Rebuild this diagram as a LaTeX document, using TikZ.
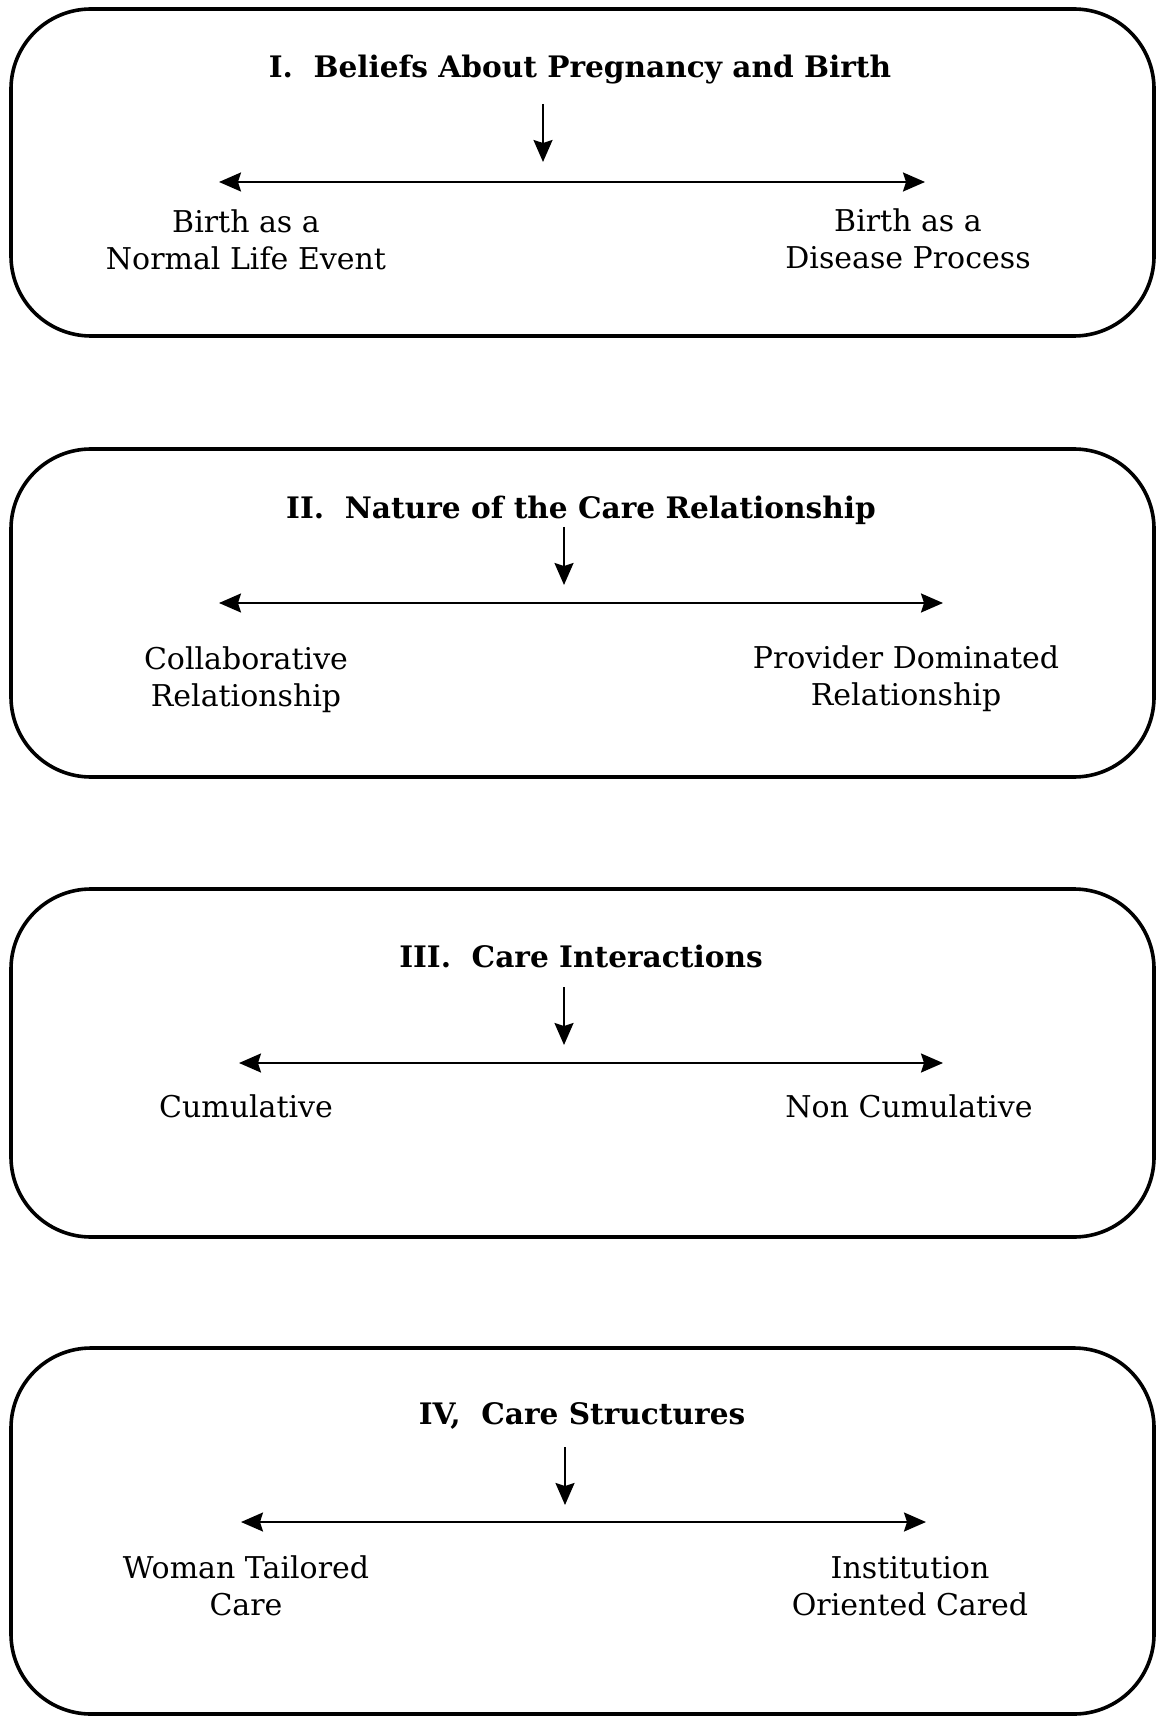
\documentclass[tikz,border=0pt]{standalone}
\usepackage{fontspec}
\setmainfont{DejaVu Serif}
\usetikzlibrary{arrows.meta}
\tikzstyle{panel} = [rectangle, rounded corners=40pt, minimum width=571.5pt, draw=black, line width=1.8pt]
\tikzstyle{heading} = [text centered, font=\bfseries\fontsize{14.8}{17}\selectfont]
\tikzstyle{pole} = [text centered, align=center, font=\fontsize{15}{18.5}\selectfont]
\tikzstyle{arrow} = [line width=1pt, -{Stealth[length=11pt, width=9.5pt, inset=1.5pt]}]
\tikzstyle{span} = [line width=1pt, {Stealth[length=11pt, width=9.5pt, inset=1.5pt]}-{Stealth[length=11pt, width=9.5pt, inset=1.5pt]}]

\begin{document}
\begin{tikzpicture}[x=0.5pt, y=-0.5pt]
\useasboundingbox (0,0) rectangle (1161,1716);

% ------------------------- panels -------------------------

% ----- panel: I
\node(box1)[panel, minimum height=163.5pt] at (582.5,172.5) {};
\node(head1)[heading] at (580,70) {I.\ \ Beliefs About Pregnancy and Birth};
\coordinate(top1) at (543,104);
\coordinate(mid1) at (543,162);
\coordinate(left1) at (219,182);
\coordinate(right1) at (925,182);
\node(pole1a)[pole] at (246,240) {Birth as a\\Normal Life Event};
\node(pole1b)[pole] at (908,238.5) {Birth as a\\Disease Process};
\draw[arrow] (top1) -- (mid1);
\draw[span] (left1) -- (right1);

% ----- panel: II
\node(box2)[panel, minimum height=164pt] at (582.5,613) {};
\node(head2)[heading] at (581,510) {II.\ \ Nature of the Care Relationship};
\coordinate(top2) at (564,527);
\coordinate(mid2) at (564,585);
\coordinate(left2) at (219,603);
\coordinate(right2) at (943,603);
\node(pole2a)[pole] at (246,679.5) {Collaborative\\Relationship};
\node(pole2b)[pole] at (906,678.5) {Provider Dominated\\Relationship};
\draw[arrow] (top2) -- (mid2);
\draw[span] (left2) -- (right2);

% ----- panel: III
\node(box3)[panel, minimum height=174pt] at (582.5,1063) {};
\node(head3)[heading] at (581,956) {III.\ \ Care Interactions};
\coordinate(top3) at (564,987);
\coordinate(mid3) at (564,1045);
\coordinate(left3) at (239,1063);
\coordinate(right3) at (943,1063);
\node(pole3a)[pole] at (246,1106) {Cumulative};
\node(pole3b)[pole] at (909,1106) {Non Cumulative};
\draw[arrow] (top3) -- (mid3);
\draw[span] (left3) -- (right3);

% ----- panel: IV
\node(box4)[panel, minimum height=183pt] at (582.5,1531) {};
\node(head4)[heading] at (582,1416) {IV,\ \ Care Structures};
\coordinate(top4) at (565,1447);
\coordinate(mid4) at (565,1505);
\coordinate(left4) at (241,1522);
\coordinate(right4) at (926,1522);
\node(pole4a)[pole] at (246,1586) {Woman Tailored\\Care};
\node(pole4b)[pole] at (910,1586) {Institution\\Oriented Cared};
\draw[arrow] (top4) -- (mid4);
\draw[span] (left4) -- (right4);

\end{tikzpicture}
\end{document}
